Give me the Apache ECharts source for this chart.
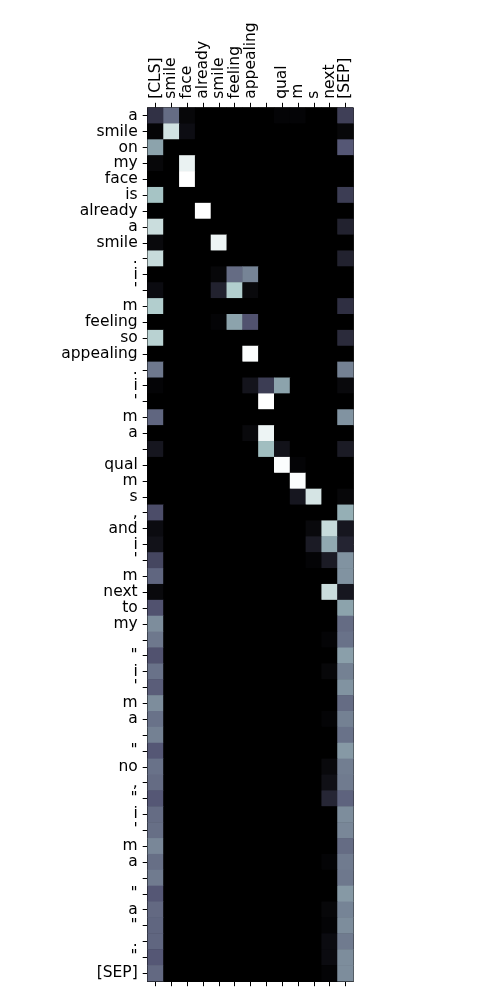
<!DOCTYPE html>
<html>
<head>
<meta charset="utf-8">
<script src="https://cdn.jsdelivr.net/npm/echarts@6/dist/echarts.min.js"></script>
<style>
  html, body { margin: 0; padding: 0; background: #fff; }
  #container { width: 500px; height: 1000px; }
</style>
</head>
<body>
<div id="container"></div>
<script>
// column tokens (top axis) and row tokens (left axis)
var xLabels = ['[CLS]', 'smile', 'face', 'already', 'smile', 'feeling', 'appealing', '', 'qual', 'm', 's', 'next', '[SEP]'];
var yLabels = ['a', 'smile', 'on', 'my', 'face', 'is', 'already', 'a', 'smile', '.', 'i', "'", 'm', 'feeling', 'so',
  'appealing', '.', 'i', "'", 'm', 'a', '', 'qual', 'm', 's', ',', 'and', 'i', "'", 'm', 'next', 'to', 'my', '',
  '"', 'i', "'", 'm', 'a', '', '"', 'no', ',', '"', 'i', "'", 'm', 'a', '', '"', 'a', '"', '.', '"', '[SEP]'];

// attention weights, one row per row token
var weights = [
  [0.22, 0.45, 0.03, 0, 0, 0, 0, 0, 0.02, 0.02, 0, 0, 0.28],
  [0.02, 0.87, 0.06, 0, 0, 0, 0, 0, 0, 0, 0, 0, 0.03],
  [0.63, 0, 0, 0, 0, 0, 0, 0, 0, 0, 0, 0, 0.38],
  [0.03, 0, 0.94, 0, 0, 0, 0, 0, 0, 0, 0, 0, 0],
  [0, 0, 1.0, 0, 0, 0, 0, 0, 0, 0, 0, 0, 0],
  [0.74, 0, 0, 0, 0, 0, 0, 0, 0, 0, 0, 0, 0.27],
  [0, 0, 0, 1.0, 0, 0, 0, 0, 0, 0, 0, 0, 0],
  [0.85, 0, 0, 0, 0, 0, 0, 0, 0, 0, 0, 0, 0.15],
  [0.04, 0, 0, 0, 0.95, 0, 0, 0, 0, 0, 0, 0, 0],
  [0.84, 0, 0, 0, 0, 0, 0, 0, 0, 0, 0, 0, 0.15],
  [0, 0, 0, 0, 0.03, 0.45, 0.53, 0, 0, 0, 0, 0, 0],
  [0.05, 0, 0, 0, 0.15, 0.78, 0.04, 0, 0, 0, 0, 0, 0],
  [0.78, 0, 0, 0, 0, 0, 0, 0, 0, 0, 0, 0, 0.21],
  [0, 0, 0, 0, 0.02, 0.63, 0.36, 0, 0, 0, 0, 0, 0],
  [0.80, 0, 0, 0, 0, 0, 0, 0, 0, 0, 0, 0, 0.19],
  [0, 0, 0, 0, 0, 0, 0.99, 0, 0, 0, 0, 0, 0],
  [0.49, 0, 0, 0, 0, 0, 0, 0, 0, 0, 0, 0, 0.52],
  [0.02, 0, 0, 0, 0, 0, 0.09, 0.27, 0.63, 0, 0, 0, 0.04],
  [0, 0, 0, 0, 0, 0, 0, 1.0, 0, 0, 0, 0, 0],
  [0.43, 0, 0, 0, 0, 0, 0, 0, 0, 0, 0, 0, 0.58],
  [0, 0, 0, 0, 0, 0, 0.04, 0.95, 0, 0, 0, 0, 0],
  [0.10, 0, 0, 0, 0, 0, 0, 0.72, 0.08, 0, 0, 0, 0.12],
  [0, 0, 0, 0, 0, 0, 0, 0, 0.99, 0.02, 0, 0, 0],
  [0, 0, 0, 0, 0, 0, 0, 0, 0, 0.99, 0, 0, 0],
  [0, 0, 0, 0, 0, 0, 0, 0, 0, 0.10, 0.88, 0, 0.03],
  [0.34, 0, 0, 0, 0, 0, 0, 0, 0, 0, 0, 0, 0.67],
  [0.05, 0, 0, 0, 0, 0, 0, 0, 0, 0, 0.04, 0.84, 0.10],
  [0.08, 0, 0, 0, 0, 0, 0, 0, 0, 0, 0.12, 0.65, 0.16],
  [0.31, 0, 0, 0, 0, 0, 0, 0, 0, 0, 0.02, 0.12, 0.58],
  [0.43, 0, 0, 0, 0, 0, 0, 0, 0, 0, 0, 0, 0.58],
  [0.04, 0, 0, 0, 0, 0, 0, 0, 0, 0, 0, 0.85, 0.10],
  [0.36, 0, 0, 0, 0, 0, 0, 0, 0, 0, 0, 0, 0.63],
  [0.56, 0, 0, 0, 0, 0, 0, 0, 0, 0, 0, 0, 0.45],
  [0.49, 0, 0, 0, 0, 0, 0, 0, 0, 0, 0, 0.02, 0.47],
  [0.36, 0, 0, 0, 0, 0, 0, 0, 0, 0, 0, 0, 0.62],
  [0.47, 0, 0, 0, 0, 0, 0, 0, 0, 0, 0, 0.03, 0.52],
  [0.40, 0, 0, 0, 0, 0, 0, 0, 0, 0, 0, 0, 0.58],
  [0.56, 0, 0, 0, 0, 0, 0, 0, 0, 0, 0, 0, 0.45],
  [0.47, 0, 0, 0, 0, 0, 0, 0, 0, 0, 0, 0.02, 0.52],
  [0.52, 0, 0, 0, 0, 0, 0, 0, 0, 0, 0, 0, 0.47],
  [0.38, 0, 0, 0, 0, 0, 0, 0, 0, 0, 0, 0, 0.60],
  [0.47, 0, 0, 0, 0, 0, 0, 0, 0, 0, 0, 0.04, 0.51],
  [0.45, 0, 0, 0, 0, 0, 0, 0, 0, 0, 0, 0.07, 0.50],
  [0.38, 0, 0, 0, 0, 0, 0, 0, 0, 0, 0, 0.17, 0.42],
  [0.45, 0, 0, 0, 0, 0, 0, 0, 0, 0, 0, 0, 0.56],
  [0.46, 0, 0, 0, 0, 0, 0, 0, 0, 0, 0, 0, 0.54],
  [0.54, 0, 0, 0, 0, 0, 0, 0, 0, 0, 0, 0, 0.45],
  [0.46, 0, 0, 0, 0, 0, 0, 0, 0, 0, 0, 0.02, 0.50],
  [0.50, 0, 0, 0, 0, 0, 0, 0, 0, 0, 0, 0, 0.49],
  [0.38, 0, 0, 0, 0, 0, 0, 0, 0, 0, 0, 0, 0.60],
  [0.44, 0, 0, 0, 0, 0, 0, 0, 0, 0, 0, 0.03, 0.53],
  [0.43, 0, 0, 0, 0, 0, 0, 0, 0, 0, 0, 0.02, 0.56],
  [0.43, 0, 0, 0, 0, 0, 0, 0, 0, 0, 0, 0.05, 0.50],
  [0.38, 0, 0, 0, 0, 0, 0, 0, 0, 0, 0, 0.05, 0.56],
  [0.44, 0, 0, 0, 0, 0, 0, 0, 0, 0, 0, 0.02, 0.56]
];

// matplotlib "bone" sampled at 0, 1/8, ... 1
var boneColors = ['#000000', '#1c1c27', '#38384e', '#545574', '#707b8f', '#8ba1ab', '#a8c7c7', '#d3e3e3', '#ffffff'];

var cells = [];
weights.forEach(function (row, yi) {
    row.forEach(function (v, xi) {
        cells.push([xi, yi, v]);
    });
});

var font = 'DejaVu Sans';
var chart = echarts.init(document.getElementById('container'));

var option = {
    animation: false,
    textStyle: { fontFamily: font },
    grid: {
        left: 147.7,
        right: 146.7,
        top: 107.8,
        bottom: 18.8,
        show: true,
        borderColor: '#000',
        borderWidth: 1,
        // dark backdrop so sub-pixel seams between cells don't show
        backgroundColor: '#000'
    },
    visualMap: {
        show: false,
        min: 0,
        max: 1,
        inRange: { color: boneColors }
    },
    xAxis: [
        {
            type: 'category',
            position: 'top',
            data: xLabels,
            axisLine: { show: true, lineStyle: { color: '#000', width: 1 } },
            axisTick: { show: true, alignWithLabel: true, length: 5, interval: 0, lineStyle: { color: '#000' } },
            axisLabel: { interval: 0, rotate: -90, margin: 9, color: '#000', fontSize: 15.5, fontFamily: font },
            splitLine: { show: false }
        },
        {
            type: 'category',
            position: 'bottom',
            data: xLabels,
            axisLine: { show: true, lineStyle: { color: '#000', width: 1 } },
            axisTick: { show: true, alignWithLabel: true, length: 5, interval: 0, lineStyle: { color: '#000' } },
            axisLabel: { show: false },
            splitLine: { show: false }
        }
    ],
    yAxis: {
        type: 'category',
        inverse: true,
        data: yLabels,
        axisLine: { show: true, lineStyle: { color: '#000', width: 1 } },
        axisTick: { show: true, alignWithLabel: true, length: 5, interval: 0, lineStyle: { color: '#000' } },
        axisLabel: { interval: 0, margin: 10, color: '#000', fontSize: 15.5, fontFamily: font },
        splitLine: { show: false }
    },
    series: [
        {
            type: 'heatmap',
            xAxisIndex: 0,
            data: cells,
            emphasis: { disabled: true },
            itemStyle: { borderWidth: 0 }
        }
    ]
};

option && chart.setOption(option);
</script>
</body>
</html>
